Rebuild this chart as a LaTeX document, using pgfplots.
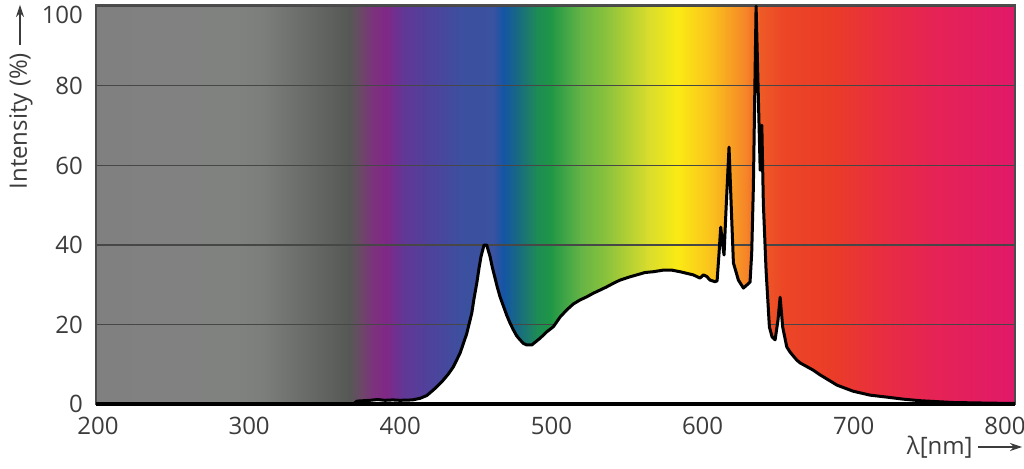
\documentclass[border=0pt]{standalone}
\usepackage{fontspec}
\setmainfont{Open Sans}
\usepackage{pgfplots}
\usepackage{pgfplotstable}
\pgfplotsset{compat=1.18}
\usetikzlibrary{arrows.meta}

\definecolor{s01}{RGB}{128,128,128}
\definecolor{s02}{RGB}{128,130,128}
\definecolor{s03}{RGB}{124,126,124}
\definecolor{s04}{RGB}{85,88,85}
\definecolor{s05}{RGB}{105,75,100}
\definecolor{s06}{RGB}{125,50,125}
\definecolor{s07}{RGB}{128,40,135}
\definecolor{s08}{RGB}{98,55,150}
\definecolor{s09}{RGB}{80,65,155}
\definecolor{s10}{RGB}{60,80,160}
\definecolor{s11}{RGB}{58,82,160}
\definecolor{s12}{RGB}{20,85,165}
\definecolor{s13}{RGB}{25,110,125}
\definecolor{s14}{RGB}{30,140,85}
\definecolor{s15}{RGB}{30,150,70}
\definecolor{s16}{RGB}{100,180,70}
\definecolor{s17}{RGB}{140,195,60}
\definecolor{s18}{RGB}{215,220,45}
\definecolor{s19}{RGB}{250,235,20}
\definecolor{s20}{RGB}{250,190,30}
\definecolor{s21}{RGB}{245,130,40}
\definecolor{s22}{RGB}{238,90,38}
\definecolor{s23}{RGB}{236,70,38}
\definecolor{s24}{RGB}{234,60,40}
\definecolor{s25}{RGB}{232,45,65}
\definecolor{s26}{RGB}{230,35,85}
\definecolor{s27}{RGB}{225,25,105}
\definecolor{txt}{RGB}{60,60,60}

\pgfplotstableread{
x y
198.7 0
368.7 0
371.4 0.8
380.0 1.0
385.0 1.2
389.9 1.0
395.0 1.1
399.8 1.0
408.0 1.1
413.1 1.5
417.5 2.2
421.9 3.6
425.2 4.8
428.5 6.1
431.8 7.6
435.1 9.4
439.5 12.8
441.7 15.2
444.0 17.8
447.3 22.9
448.8 26.6
450.6 30.4
452.1 34.2
453.4 37.1
455.4 40.0
457.2 40.0
459.4 37.1
460.9 34.4
462.7 31.7
464.2 29.4
466.0 27.0
468.2 24.7
470.4 22.4
472.6 20.4
474.8 18.7
477.0 17.2
479.2 16.2
481.4 15.3
483.7 14.9
487.0 14.9
492.5 16.6
496.9 18.2
501.3 19.5
505.7 21.9
510.1 23.7
514.5 25.2
518.9 26.2
523.4 27.0
527.7 27.9
532.2 28.7
536.6 29.5
541.0 30.4
545.4 31.2
550.9 31.9
556.4 32.5
561.9 33.1
567.4 33.3
574.0 33.7
579.6 33.7
585.1 33.3
589.5 32.9
593.9 32.5
598.3 31.7
600.5 32.5
602.8 32.1
604.9 31.2
608.2 30.8
609.6 31.0
610.9 38.0
612.0 44.5
612.9 41.3
614.2 37.5
615.5 48.8
617.5 64.6
619.3 46.3
620.4 35.5
623.7 31.2
627.0 29.2
629.4 30.0
631.4 30.7
632.5 38.0
633.6 54.6
635.4 100.0
638.1 58.8
639.2 70.1
640.2 50.5
642.0 33.7
644.2 19.4
646.0 16.9
648.0 16.2
649.9 21.2
651.3 26.9
653.0 19.4
655.7 14.4
657.9 13.1
662.3 11.1
664.5 10.4
673.1 8.6
677.7 7.4
689.0 4.8
699.5 3.3
710.8 2.3
722.0 1.8
732.6 1.3
743.9 0.9
765.7 0.45
788.2 0.3
805.4 0.2
806.7 0.2
}\spec

\begin{document}
\begin{tikzpicture}
\begin{axis}[
  set layers,
  scale only axis,
  width=459.5pt, height=199.65pt,
  xmin=198.7, xmax=806.7, ymin=0, ymax=100.3,
  xtick={200,300,...,800},
  ytick={0,20,...,80},
  extra y ticks={100},
  extra y tick style={yticklabel style={yshift=-4.5pt}},
  ymajorgrids,
  major grid style={black!72, line width=0.6pt},
  major tick length=0pt,
  axis line style={black!70, line width=0.9pt},
  /pgf/number format/assume math mode=true,
  tick label style={font=\fontsize{12}{14}\selectfont, text=txt},
  yticklabel style={xshift=-3pt},
  xticklabel style={yshift=-3pt},
  xlabel={λ[nm]},
  xlabel style={at={(rel axis cs:1,0)}, anchor=east, inner sep=0pt, xshift=-21pt, yshift=-21.35pt, font=\fontsize{12}{14}\selectfont, text=txt},
  ylabel={Intensity (\%)},
  ylabel style={at={(rel axis cs:-0.0816,0.709)}, anchor=center, font=\fontsize{12}{14}\selectfont, text=txt},
]
\begin{pgfonlayer}{axis background}
\fill[left color=s01,right color=s02] (axis cs:198.7,0) rectangle (axis cs:291.7,100.3);
\fill[left color=s02,right color=s03] (axis cs:291.3,0) rectangle (axis cs:309.6,100.3);
\fill[left color=s03,right color=s04] (axis cs:309.2,0) rectangle (axis cs:366.4,100.3);
\fill[left color=s04,right color=s05] (axis cs:366.0,0) rectangle (axis cs:373.0,100.3);
\fill[left color=s05,right color=s06] (axis cs:372.6,0) rectangle (axis cs:382.3,100.3);
\fill[left color=s06,right color=s07] (axis cs:381.9,0) rectangle (axis cs:390.9,100.3);
\fill[left color=s07,right color=s08] (axis cs:390.5,0) rectangle (axis cs:402.2,100.3);
\fill[left color=s08,right color=s09] (axis cs:401.8,0) rectangle (axis cs:417.4,100.3);
\fill[left color=s09,right color=s10] (axis cs:417.0,0) rectangle (axis cs:441.9,100.3);
\fill[left color=s10,right color=s11] (axis cs:441.5,0) rectangle (axis cs:461.8,100.3);
\fill[left color=s11,right color=s12] (axis cs:461.4,0) rectangle (axis cs:468.4,100.3);
\fill[left color=s12,right color=s13] (axis cs:468.0,0) rectangle (axis cs:479.6,100.3);
\fill[left color=s13,right color=s14] (axis cs:479.2,0) rectangle (axis cs:490.9,100.3);
\fill[left color=s14,right color=s15] (axis cs:490.5,0) rectangle (axis cs:499.5,100.3);
\fill[left color=s15,right color=s16] (axis cs:499.1,0) rectangle (axis cs:519.3,100.3);
\fill[left color=s16,right color=s17] (axis cs:518.9,0) rectangle (axis cs:537.2,100.3);
\fill[left color=s17,right color=s18] (axis cs:536.8,0) rectangle (axis cs:563.7,100.3);
\fill[left color=s18,right color=s19] (axis cs:563.3,0) rectangle (axis cs:583.5,100.3);
\fill[left color=s19,right color=s20] (axis cs:583.1,0) rectangle (axis cs:607.3,100.3);
\fill[left color=s20,right color=s21] (axis cs:606.9,0) rectangle (axis cs:629.8,100.3);
\fill[left color=s21,right color=s22] (axis cs:629.4,0) rectangle (axis cs:638.5,100.3);
\fill[left color=s22,right color=s23] (axis cs:638.1,0) rectangle (axis cs:653.7,100.3);
\fill[left color=s23,right color=s24] (axis cs:653.3,0) rectangle (axis cs:686.7,100.3);
\fill[left color=s24,right color=s25] (axis cs:686.3,0) rectangle (axis cs:719.8,100.3);
\fill[left color=s25,right color=s26] (axis cs:719.4,0) rectangle (axis cs:752.9,100.3);
\fill[left color=s26,right color=s27] (axis cs:752.5,0) rectangle (axis cs:806.7,100.3);
\end{pgfonlayer}
\addplot[draw=none, fill=white] table {\spec} \closedcycle;
\addplot[black, line width=1.5pt, line join=round] table {\spec};
\end{axis}
\draw[black, line width=1.8pt] (current axis.south west) -- (current axis.south east);
\draw[txt, line width=0.6pt, -{Stealth[length=6pt,width=4pt]}] ([shift={(-18.5pt,-21.35pt)}]current axis.south east) -- ([shift={(3.5pt,-21.35pt)}]current axis.south east);
\draw[txt, line width=0.6pt, -{Stealth[length=6pt,width=4pt]}] ([shift={(-38pt,-20pt)}]current axis.north west) -- ([shift={(-38pt,0pt)}]current axis.north west);
\pgfresetboundingbox
\path ([shift={(-48pt,-32.35pt)}]current axis.south west) rectangle ([shift={(4.5pt,2.5pt)}]current axis.north east);
\end{tikzpicture}
\end{document}
